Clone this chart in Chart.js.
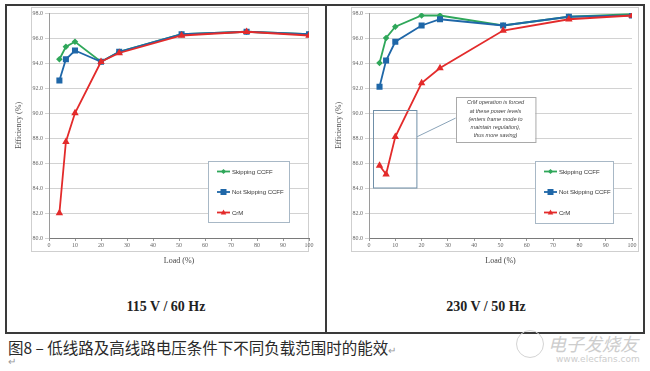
<!DOCTYPE html>
<html>
<head>
<meta charset="utf-8">
<script src="https://cdn.jsdelivr.net/npm/chart.js@4/dist/chart.umd.min.js"></script>
<style>
  body { margin: 0; width: 650px; height: 371px; background: #fff; overflow: hidden; position: relative; }
  .abs { position: absolute; }
  .table { left: 5px; top: 4px; width: 640px; height: 330px; border: 2px solid #3a3a3a; box-sizing: border-box; }
  .divider { left: 325px; top: 4px; width: 2px; height: 330px; background: #3a3a3a; }
  .frame { top: 7px; height: 245px; border: 1px solid #cfcfcf; box-sizing: border-box; }
  .cond { top: 299px; width: 318px; text-align: center; font: bold 14px "Liberation Serif", serif; color: #222; }
  .caption { left: 8px; top: 336px; font: 15.5px "Noto Sans CJK SC", sans-serif; color: #2a2a2a; white-space: nowrap; }
  .ret { color: #999; font-size: 10px; }
  .wm { color: #cdcdcd; font-family: "Noto Sans CJK SC", sans-serif; }
</style>
</head>
<body>
<div class="abs table"></div>
<div class="abs divider"></div>
<div class="abs frame" style="left:31px;width:278px"></div>
<div class="abs frame" style="left:351px;width:288px"></div>
<canvas id="lowLineChart" class="abs" width="310" height="265" style="left:10px;top:5px"></canvas>
<canvas id="highLineChart" class="abs" width="310" height="265" style="left:330px;top:5px"></canvas>
<div class="abs cond" style="left:7px">115 V / 60 Hz</div>
<div class="abs cond" style="left:327px">230 V / 50 Hz</div>
<div class="abs caption">图8 – 低线路及高线路电压条件下不同负载范围时的能效<span class="ret">↵</span></div>
<div class="abs ret" style="left:8px;top:356px">↵</div>
<div class="abs" style="left:516px;top:330px;width:26px;height:26px;border:1px solid #d4d4d4;border-radius:50%"></div>
<div class="abs wm" style="left:548px;top:330px;font-size:18px;font-style:italic">电子发烧友</div>
<div class="abs wm" style="left:556px;top:354px;font-size:9px;font-family:'DejaVu Sans',sans-serif">www.elecfans.com</div>

<script>
// load points (% of full load)
const loadPct = [4, 6.5, 10, 20, 27, 51, 76, 100];

// 115 V / 60 Hz
const lowSkip = [94.3, 95.3, 95.7, 94.1, 94.9, 96.3, 96.5, 96.3];
const lowNoSkip = [92.6, 94.3, 95.0, 94.1, 94.9, 96.3, 96.5, 96.3];
const lowCrm = [82.0, 87.7, 90.0, 94.1, 94.8, 96.2, 96.5, 96.2];

// 230 V / 50 Hz
const highSkip = [94.0, 96.0, 96.9, 97.8, 97.8, 97.0, 97.7, 97.9];
const highNoSkip = [92.1, 94.2, 95.7, 97.0, 97.5, 97.0, 97.7, 97.8];
const highCrm = [85.8, 85.1, 88.1, 92.4, 93.6, 96.6, 97.5, 97.8];

const seriesNames = ["Skipping CCFF", "Not Skipping CCFF", "CrM"];
const effMin = 80, effMax = 98, effStep = 2;
const loadMin = 0, loadMax = 100, loadStep = 10;

const noteLines = [
  "CrM operation is forced",
  "at these power levels",
  "(enters frame mode to",
  "maintain regulation),",
  "thus more saving)"
];

const seriesStyle = [
  { color: "#2fa75a", pointStyle: "rectRot", radius: 2 },
  { color: "#1f67a8", pointStyle: "rect", radius: 3 },
  { color: "#e32b2b", pointStyle: "triangle", radius: 2.5 }
];

function drawMark(ctx, style, x, y, r, color) {
  ctx.fillStyle = color;
  ctx.beginPath();
  if (style === "rect") {
    ctx.rect(x - r, y - r, 2 * r, 2 * r);
  } else if (style === "rectRot") {
    ctx.moveTo(x, y - r * 1.3); ctx.lineTo(x + r * 1.3, y);
    ctx.lineTo(x, y + r * 1.3); ctx.lineTo(x - r * 1.3, y);
  } else {
    ctx.moveTo(x, y - r * 1.2); ctx.lineTo(x + r * 1.1, y + r * 0.8);
    ctx.lineTo(x - r * 1.1, y + r * 0.8);
  }
  ctx.closePath();
  ctx.fill();
}

// legend box and the CrM note, drawn inside the plot area
const insidePlugin = {
  id: "inside",
  afterDatasetsDraw(chart, args, opts) {
    const ctx = chart.ctx;
    const area = chart.chartArea;
    const xs = chart.scales.x, ys = chart.scales.y;
    ctx.save();

    if (opts.note) {
      const b = opts.box, n = opts.note;
      const bx1 = xs.getPixelForValue(b[0]), bx2 = xs.getPixelForValue(b[1]);
      const by1 = ys.getPixelForValue(b[2]), by2 = ys.getPixelForValue(b[3]);
      ctx.strokeStyle = "#6f8fa8";
      ctx.lineWidth = 1;
      ctx.strokeRect(Math.round(bx1) + 0.5, Math.round(by1) + 0.5, bx2 - bx1, by2 - by1);
      const nx1 = xs.getPixelForValue(n[0]), nx2 = xs.getPixelForValue(n[1]);
      const ny1 = ys.getPixelForValue(n[2]), ny2 = ys.getPixelForValue(n[3]);
      ctx.strokeStyle = "#8aa3b8";
      ctx.beginPath();
      ctx.moveTo(bx2 + 1, ys.getPixelForValue(opts.linkFrom));
      ctx.lineTo(nx1, ys.getPixelForValue(opts.linkTo));
      ctx.stroke();
      ctx.fillStyle = "#fff";
      ctx.fillRect(nx1, ny1, nx2 - nx1, ny2 - ny1);
      ctx.strokeStyle = "#a9a9a9";
      ctx.strokeRect(Math.round(nx1) + 0.5, Math.round(ny1) + 0.5, nx2 - nx1, ny2 - ny1);
      ctx.fillStyle = "#444";
      ctx.font = "italic 5.5px 'Liberation Sans', sans-serif";
      ctx.textAlign = "center";
      ctx.textBaseline = "middle";
      noteLines.forEach((t, i) => {
        ctx.fillText(t, (nx1 + nx2) / 2, ny1 + 6 + i * 8.3);
      });
    }

    const lg = opts.legend;
    const lx = area.left + lg.x, ly = area.top + lg.y;
    ctx.fillStyle = "#fff";
    ctx.fillRect(lx, ly, lg.w, lg.h);
    ctx.strokeStyle = "#a8b8c6";
    ctx.lineWidth = 1;
    ctx.strokeRect(Math.round(lx) + 0.5, Math.round(ly) + 0.5, lg.w, lg.h);
    ctx.font = "6px 'Liberation Sans', sans-serif";
    ctx.textAlign = "left";
    ctx.textBaseline = "middle";
    chart.data.datasets.forEach((ds, i) => {
      const y = ly + 10.5 + i * 20.5;
      ctx.strokeStyle = ds.borderColor;
      ctx.lineWidth = 1.8;
      ctx.beginPath();
      ctx.moveTo(lx + 9, y);
      ctx.lineTo(lx + 22, y);
      ctx.stroke();
      drawMark(ctx, ds.pointStyle, lx + 15.5, y, ds.pointRadius, ds.borderColor);
      ctx.fillStyle = "#333";
      ctx.fillText(ds.label, lx + 24, y + 0.5);
    });
    ctx.restore();
  }
};

function makeChart(id, series, padRight, inside) {
  return new Chart(document.getElementById(id).getContext("2d"), {
    type: "scatter",
    data: {
      datasets: series.map((vals, i) => ({
        label: seriesNames[i],
        data: loadPct.map((x, k) => ({ x: x, y: vals[k] })),
        showLine: true,
        borderColor: seriesStyle[i].color,
        backgroundColor: seriesStyle[i].color,
        borderWidth: 1.8,
        pointStyle: seriesStyle[i].pointStyle,
        pointRadius: seriesStyle[i].radius,
        order: 3 - i
      }))
    },
    options: {
      responsive: false,
      animation: false,
      layout: { padding: { top: 8, right: padRight, bottom: 0, left: 0 } },
      plugins: { legend: { display: false }, tooltip: { enabled: false }, inside: inside },
      scales: {
        x: {
          type: "linear",
          min: loadMin, max: loadMax,
          ticks: { stepSize: loadStep, maxRotation: 0, padding: 1, color: "#666",
                   font: { size: 6, family: "'Liberation Serif', serif" } },
          grid: { drawOnChartArea: false, tickLength: 3, color: "#999" },
          border: { color: "#7a7a7a" },
          title: { display: true, text: "Load (%)", color: "#444",
                   font: { size: 8, family: "'Liberation Serif', serif" } },
          afterFit: (s) => { s.height = 32; }
        },
        y: {
          min: effMin, max: effMax,
          ticks: { stepSize: effStep, padding: 2, color: "#666",
                   font: { size: 6, family: "'Liberation Serif', serif" },
                   callback: (v) => v.toFixed(1) },
          grid: { color: "#d2d2d2", tickLength: 4 },
          border: { color: "#9a9a9a" },
          title: { display: true, text: "Efficiency (%)", color: "#555",
                   font: { size: 8, family: "'Liberation Serif', serif" } },
          afterFit: (s) => { s.width = 39; }
        }
      }
    },
    plugins: [insidePlugin]
  });
}

document.addEventListener("DOMContentLoaded", function () {
  makeChart("lowLineChart", [lowSkip, lowNoSkip, lowCrm], 11, {
    legend: { x: 159, y: 148, w: 81, h: 61 }
  });
  makeChart("highLineChart", [highSkip, highNoSkip, highCrm], 8, {
    legend: { x: 166, y: 148, w: 78, h: 62 },
    box: [1.4, 17.9, 90.2, 84.0],
    note: [33, 63.2, 91.3, 87.7],
    linkFrom: 88.1,
    linkTo: 89.6
  });
});
</script>
</body>
</html>
